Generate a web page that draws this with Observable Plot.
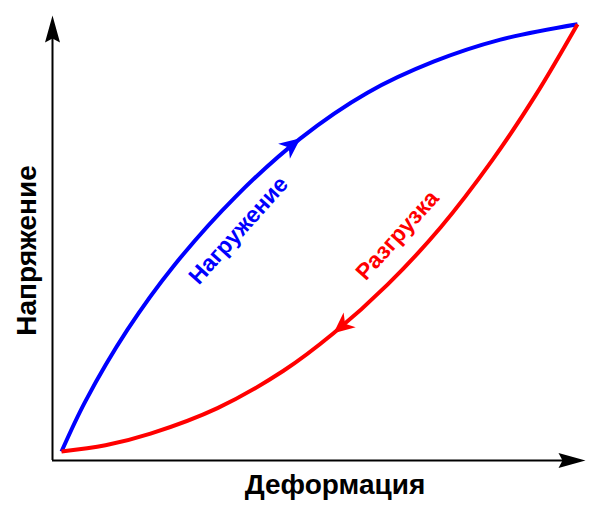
<!DOCTYPE html>
<html>
<head>
<meta charset="utf-8">
<script src="https://cdn.jsdelivr.net/npm/d3@7"></script>
<script src="https://cdn.jsdelivr.net/npm/@observablehq/plot@0.6"></script>
<style>
  html, body { margin: 0; padding: 0; background: #fff; }
</style>
</head>
<body>
<div id="chart"></div>
<script>
// Loading branch (Нагружение)
const loadX = [1.69, 6.19, 14.07, 22.70, 34.33, 46.53, 59.10, 71.48, 84.05, 98.50];
const loadY = [2.02, 13.35, 29.39, 43.66, 59.26, 72.40, 82.65, 89.62, 94.58, 98.04];
// Unloading branch (Разгрузка)
const unloadX = [1.69, 9.94, 18.39, 30.96, 43.34, 52.72, 62.85, 72.80, 82.55, 90.62, 98.50];
const unloadY = [2.02, 3.42, 6.04, 11.78, 20.16, 28.58, 39.51, 52.36, 67.55, 82.04, 98.04];
// Texts
const axisLabels = ["Деформация", "Напряжение"];
const curveLabels = ["Нагружение", "Разгрузка"];
const axisMax = 100;

const W = 606, H = 517;
const mL = 52, mR = 21, mT = 15, mB = 57;
const kx = (W - mL - mR) / axisMax, ky = (H - mT - mB) / axisMax;

const load = loadX.map((x, i) => ({x, y: loadY[i]}));
const unload = unloadX.map((x, i) => ({x, y: unloadY[i]}));

// screen-space angle (clockwise from up) from point a to point b
function angle(a, b) {
  const dx = (b.x - a.x) * kx, dy = -(b.y - a.y) * ky;
  return Math.atan2(dx, -dy) * 180 / Math.PI;
}
function stealth(w, notch) {
  return {
    draw(ctx, l) {
      ctx.moveTo(0, -l);
      ctx.lineTo(w, 0);
      ctx.lineTo(0, -notch);
      ctx.lineTo(-w, 0);
      ctx.closePath();
    }
  };
}

const ia = 5, ib = 5;
const curveHeads = [
  {x: load[ia].x, y: load[ia].y, r: angle(load[ia - 1], load[ia + 1]), c: "#0000ff"},
  {x: unload[ib].x, y: unload[ib].y, r: angle(unload[ib + 1], unload[ib - 1]), c: "#ff0000"}
];
const axisHeads = [
  {x: 0, y: axisMax, r: 0},
  {x: axisMax, y: 0, r: 90}
];

const font = "'Liberation Sans', Arial, sans-serif";

const plot = Plot.plot({
  width: W, height: H,
  marginLeft: mL, marginRight: mR, marginTop: mT, marginBottom: mB,
  style: {fontFamily: font, background: "#fff"},
  x: {domain: [0, axisMax], axis: null},
  y: {domain: [0, axisMax], axis: null},
  marks: [
    Plot.ruleX([0], {y1: 0, y2: axisMax - 4, stroke: "#000", strokeWidth: 2}),
    Plot.ruleY([0], {x1: 0, x2: axisMax - 4, stroke: "#000", strokeWidth: 2}),
    Plot.vector(axisHeads, {x: "x", y: "y", rotate: "r", length: 27, anchor: "end",
      shape: stealth(7.5, 4), fill: "#000", stroke: "none"}),
    Plot.line(load, {x: "x", y: "y", stroke: "#0000ff", strokeWidth: 4, curve: "catmull-rom", strokeLinecap: "butt"}),
    Plot.line(unload, {x: "x", y: "y", stroke: "#ff0000", strokeWidth: 4, curve: "catmull-rom", strokeLinecap: "butt"}),
    Plot.vector(curveHeads, {x: "x", y: "y", rotate: "r", length: 21, anchor: "end",
      shape: stealth(9.5, 6), fill: "c", stroke: "none"}),
    Plot.text([axisLabels[0]], {x: 53, y: 0, dy: 25, fontSize: 28, fontWeight: "bold", fill: "#000"}),
    Plot.text([axisLabels[1]], {x: 0, y: 47.2, dx: -25, rotate: -90, fontSize: 28, fontWeight: "bold", fill: "#000"}),
    Plot.text([curveLabels[0]], {x: 34.9, y: 51.7, rotate: -48, fontSize: 23, fontWeight: "bold", fill: "#0000ff"}),
    Plot.text([curveLabels[1]], {x: 64.7, y: 50.6, rotate: -48, fontSize: 23, fontWeight: "bold", fill: "#ff0000"})
  ]
});
document.getElementById("chart").appendChild(plot);
</script>
</body>
</html>
